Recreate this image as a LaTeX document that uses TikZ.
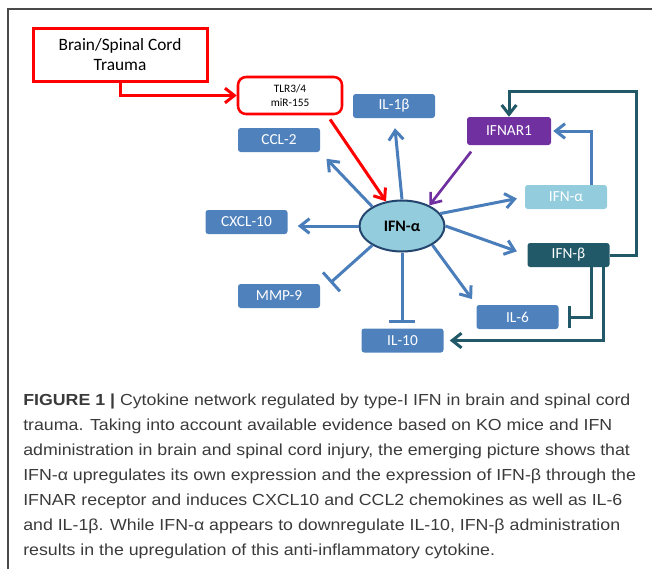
\documentclass[tikz,border=0pt]{standalone}
\usepackage{fontspec}
\setmainfont{Carlito}
\setsansfont[FakeStretch=1.11]{Liberation Sans}
\usetikzlibrary{arrows.meta,calc,shapes.geometric}
\definecolor{cytoblue}{HTML}{4F81BD}
\definecolor{arrowblue}{HTML}{4A7EBB}
\definecolor{ifnpurple}{HTML}{7030A0}
\definecolor{ifnlight}{HTML}{93CDDD}
\definecolor{ifnteal}{HTML}{215968}
\definecolor{coreedge}{HTML}{24456E}
\definecolor{framegray}{HTML}{4A4A4A}
\definecolor{captext}{HTML}{3A3A3A}
\newcommand{\pxu}{0.75pt}

\begin{document}
\begin{tikzpicture}
  [x=\pxu,y=-\pxu,
   box/.style={rectangle,rounded corners=2pt,fill=cytoblue,text=white,
     minimum width=82*\pxu,minimum height=24*\pxu,inner sep=0pt,
     font=\fontsize{11.5}{13}\selectfont},
   stim/.style={-{Straight Barb[length=7pt,width=11pt]},line width=2.25pt},
   stop/.style={-{Bar[width=19pt]},line width=2.25pt},
   legendtext/.style={anchor=north west,inner sep=0pt,align=left,text=captext,
     font=\sffamily\fontsize{12}{18.75}\selectfont}]

  \useasboundingbox (0,0) rectangle (652,569);
  \draw[framegray,line width=1.5pt] (7.5,569) -- (7.5,8.5) -- (652,8.5);

  % trigger and receptor boxes
  \node[draw=red,line width=2.25pt,minimum width=174*\pxu,minimum height=53*\pxu,
    align=center,inner sep=0pt,font=\fontsize{13}{15}\selectfont]
    (trauma) at (120,54.5) {Brain/Spinal Cord\\Trauma};
  \node[draw=red,line width=1.9pt,rounded corners=6pt,fill=white,
    minimum width=104*\pxu,minimum height=37*\pxu,align=center,inner sep=0pt,
    font=\fontsize{8.5}{10.5}\selectfont]
    (tlr) at (290,95.5) {TLR3/4\\miR-155};
  \node[box,fill=ifnpurple,minimum width=84*\pxu,minimum height=28*\pxu] (ifnar) at (509,131) {IFNAR1};

  % IFN-alpha and its targets
  \node[ellipse,draw=coreedge,line width=1.5pt,fill=ifnlight,
    minimum width=85*\pxu,minimum height=51*\pxu,inner sep=0pt,
    font=\bfseries\fontsize{12}{14}\selectfont] (core) at (402,226) {IFN-α};
  \node[box] (ccl) at (279,140) {CCL-2};
  \node[box] (ilb) at (394,106) {IL-1β};
  \node[box] (cxcl) at (246.5,222) {CXCL-10};
  \node[box] (mmp) at (279,296) {MMP-9};
  \node[box] (ilten) at (402.5,340.5) {IL-10};
  \node[box] (ilsix) at (517.5,317) {IL-6};
  \node[box,fill=ifnlight] (ifna) at (566,197) {IFN-α};
  \node[box,fill=ifnteal] (ifnb) at (568.5,255) {IFN-β};

  \draw[stim,red] (trauma.south) |- (tlr.west);
  \draw[stim,red,shorten <=5*\pxu] ($(tlr.south east)!0.15!(tlr.south west)$) -- (core.123);
  \draw[stim,ifnpurple,line width=2pt,shorten <=8*\pxu]
    ($(ifnar.south west)!0.11!(ifnar.south east)$) -- (core.37);

  \foreach \from/\to/\gap in {core.north/ilb.south/10,core.147/ccl.south east/9,
      core.18/ifna.west/8,core.east/ifnb.west/11,core.-32/ilsix.north west/7}
    \draw[stim,arrowblue,shorten >=\gap*\pxu] (\from) -- (\to);
  \draw[stim,arrowblue,shorten >=10*\pxu] (core.west) -- (core.west -| cxcl.east);
  \draw[stop,arrowblue,shorten >=13.5*\pxu] (core.213) -- ($(mmp.north east)!0.33!(mmp.south east)$);
  \draw[stop,arrowblue,shorten >=5*\pxu] (core.south) -- (core.south |- ilten.north);
  \draw[stim,arrowblue,shorten >=2*\pxu] ($(ifna.north)+(25,0)$) |- (ifnar.east);

  % IFN-beta feedback
  \draw[stim,ifnteal] (ifnb.east) -- ++(27,0) |- ($(ifnar.north)+(0,-25)$) -- (ifnar.north);
  \draw[ifnteal,-{Bar[width=17pt]},line width=2.25pt] ($(ifnb.south)+(22.5,0)$) |- ($(ilsix.east)+(9,0)$);
  \draw[stim,ifnteal,shorten >=6*\pxu] ($(ifnb.south)+(34.5,0)$) |- (ilten.east);

  \node[legendtext] (legend) at (23,394) {%
    \textbf{FIGURE 1 |} Cytokine network regulated by type-I IFN in brain and spinal cord\\
    trauma. Taking into account available evidence based on KO mice and IFN\\
    administration in brain and spinal cord injury, the emerging picture shows that\\
    IFN-α upregulates its own expression and the expression of IFN-β through the\\
    IFNAR receptor and induces CXCL10 and CCL2 chemokines as well as IL-6\\
    and IL-1β. While IFN-α appears to downregulate IL-10, IFN-β administration\\
    results in the upregulation of this anti-inflammatory cytokine.};
\end{tikzpicture}
\end{document}
